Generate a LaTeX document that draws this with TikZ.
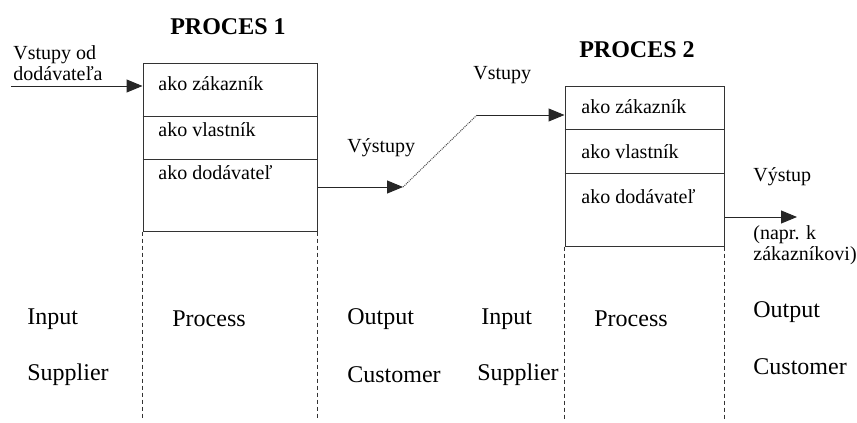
\documentclass[tikz,border=0pt]{standalone}
\usepackage{fontspec}
\setmainfont{Liberation Serif}
\usetikzlibrary{arrows.meta}
\begin{document}
\begin{tikzpicture}[x=0.5pt,y=-0.5pt,
  lbl/.style={inner sep=0pt,anchor=west,font=\fontsize{10}{10.5}\selectfont,align=left},
  big/.style={inner sep=0pt,anchor=west,font=\fontsize{12}{14}\selectfont},
  ttl/.style={inner sep=0pt,font=\fontsize{12}{14}\selectfont\bfseries},
  pbox/.style={draw=black!80,line width=0.5pt,inner sep=0pt,minimum width=#1},
  divline/.style={draw=black!80,line width=0.5pt},
  guide/.style={draw=black!80,line width=0.5pt,dash pattern=on 2pt off 1.5pt},
  flow/.style={draw=black!85,line width=0.5pt,-{Triangle[length=8pt,width=6.5pt]}},
  dotl/.style={draw=black!70,line width=0.5pt,dash pattern=on 0.5pt off 0.5pt}]
\useasboundingbox (0,0) rectangle (857,423);

% ---- Process 1 box ----
\node[pbox=87pt,minimum height=84pt] (b1) at (230,147) {};
\draw[divline] (b1.west |- 0,116) -- (b1.east |- 0,116);
\draw[divline] (b1.west |- 0,159) -- (b1.east |- 0,159);
\draw[guide] (b1.south west) -- (b1.south west |- 0,420);
\draw[guide] (b1.south east) -- (b1.south east |- 0,420);
\node[ttl] (t1) at (228,27) {PROCES 1};
\node[lbl] (z1) at (158,84) {ako zákazník};
\node[lbl] (v1t) at (158,130) {ako vlastník};
\node[lbl] (d1) at (158,173) {ako dodávateľ};

% ---- Process 2 box ----
\node[pbox=79.5pt,minimum height=80pt] (b2) at (644.5,166) {};
\draw[divline] (b2.west |- 0,129) -- (b2.east |- 0,129);
\draw[divline] (b2.west |- 0,173) -- (b2.east |- 0,173);
\draw[guide] (b2.south west) -- (b2.south west |- 0,420);
\draw[guide] (b2.south east) -- (b2.south east |- 0,420);
\node[ttl] (t2) at (637,50) {PROCES 2};
\node[lbl] (z2) at (581,107) {ako zákazník};
\node[lbl] (v2t) at (581,152) {ako vlastník};
\node[lbl] (d2) at (581,197) {ako dodávateľ};

% ---- arrows ----
\coordinate (in1) at (11,86);
\draw[flow] (in1) -- (b1.west |- in1);
\node[lbl] (vstod) at (13,63) {Vstupy od\\dodávateľa};

\coordinate (o1s) at (b1.east |- 0,187);
\coordinate (o1) at (403,187);
\coordinate (i2) at (477,115);
\draw[flow] (o1s) -- (o1);
\draw[dotl] (o1) -- (i2);
\draw[flow] (i2) -- (b2.west |- i2);
\node[lbl] (vys) at (347,148) {Výstupy};
\node[lbl] (vst) at (473,75) {Vstupy};

\coordinate (o2s) at (b2.east |- 0,217);
\coordinate (o2) at (797,217);
\draw[flow] (o2s) -- (o2);
\node[lbl] (vyst) at (753,177) {Výstup};
\node[lbl] (napr) at (753,245) {(napr. k\\zákazníkovi)};

% ---- bottom labels ----
\node[big] (in1l) at (27,319) {Input};
\node[big] (sup1) at (27,375) {Supplier};
\node[big] (pr1) at (172,319) {Process};
\node[big] (out1) at (347,319) {Output};
\node[big] (cus1) at (347,375) {Customer};
\node[big] (in2l) at (481,319) {Input};
\node[big] (sup2) at (477,375) {Supplier};
\node[big] (pr2) at (594,319) {Process};
\node[big] (out2) at (753,312) {Output};
\node[big] (cus2) at (753,367) {Customer};
\end{tikzpicture}
\end{document}
